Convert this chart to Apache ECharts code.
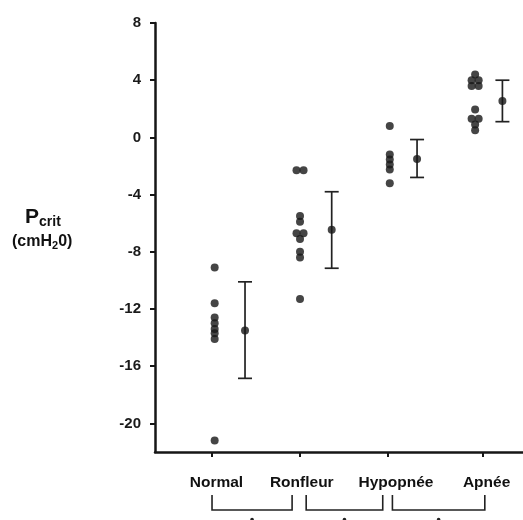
<!DOCTYPE html>
<html>
<head>
<meta charset="utf-8">
<script src="https://cdn.jsdelivr.net/npm/echarts@6/dist/echarts.min.js"></script>
<style>html,body{margin:0;padding:0;background:#fff}#c{width:523px;height:520px}</style>
</head>
<body>
<div id="c"></div>
<script>
// ---- data ----
const categories = ['Normal', 'Ronfleur', 'Hypopnée', 'Apnée'];
const tickX = [1, 2, 3, 4.08];
const labelX = [1.05, 2.02, 3.09, 4.12];
const dotX = [1.03, 2.0, 3.02, 3.99];
const errX = [1.375, 2.36, 3.33, 4.3];
const yTicks = [-20, -16, -12, -8, -4, 0, 4, 8];
// individual points: [x offset from group centre, value]
const normalPts = [[0, -9.1], [0, -11.6], [0, -12.6], [0, -13.0], [0, -13.4], [0, -13.7], [0, -14.1], [0, -21.2]];
const ronfleurPts = [[-0.04, -2.3], [0.04, -2.3], [0, -5.5], [0, -5.9], [-0.04, -6.7], [0.04, -6.7], [0, -7.1], [0, -8.0], [0, -8.4], [0, -11.3]];
const hypopneePts = [[0, 0.8], [0, -1.2], [0, -1.55], [0, -1.9], [0, -2.25], [0, -3.2]];
const apneePts = [[0, 4.4], [-0.04, 4.0], [0.04, 4.0], [-0.04, 3.6], [0.04, 3.6], [0, 1.95], [-0.04, 1.3], [0.04, 1.3], [0, 0.9], [0, 0.5]];
const means = [-13.5, -6.46, -1.51, 2.55];
const lows = [-16.85, -9.15, -2.8, 1.1];
const highs = [-10.1, -3.8, -0.15, 4.0];
const brackets = [[1.0, 1.91], [2.07, 2.94], [3.05, 4.1]];

const groups = [normalPts, ronfleurPts, hypopneePts, apneePts];
const pointData = [];
groups.forEach((g, i) => g.forEach(p => pointData.push([dotX[i] + p[0], p[1]])));
const errData = errX.map((x, i) => [x, lows[i], highs[i]]);
const meanData = errX.map((x, i) => [x, means[i]]);

const ink = '#161616';
const chart = echarts.init(document.getElementById('c'), null, {renderer: 'canvas'});
chart.setOption({
  animation: false,
  backgroundColor: '#fff',
  grid: {left: 155, right: 0, top: 23, bottom: 68},
  xAxis: {
    type: 'value', min: 0.352, max: 4.534,
    splitLine: {show: false},
    axisLine: {show: true, onZero: false, lineStyle: {color: ink, width: 2.5}},
    axisTick: {show: true, length: 5, customValues: tickX, lineStyle: {color: ink, width: 2}},
    axisLabel: {
      customValues: labelX, margin: 23,
      formatter: (v) => { const i = labelX.indexOf(v); return i >= 0 ? categories[i] : ''; },
      color: '#111', fontFamily: 'Liberation Sans', fontWeight: 'bold', fontSize: 15.5
    }
  },
  yAxis: {
    type: 'value', min: -22, max: 8,
    splitLine: {show: false},
    axisLine: {show: true, onZero: false, lineStyle: {color: ink, width: 2.5}},
    axisTick: {show: true, length: 5, customValues: yTicks, lineStyle: {color: ink, width: 2}},
    axisLabel: {customValues: yTicks, margin: 14, color: '#1a1a1a', fontFamily: 'Liberation Sans', fontWeight: 'bold', fontSize: 15}
  },
  series: [
    {type: 'scatter', data: pointData, symbolSize: 8, itemStyle: {color: ink}},
    {
      type: 'custom', data: errData,
      renderItem: (params, api) => {
        const x = api.value(0);
        const lo = api.coord([x, api.value(1)]);
        const hi = api.coord([x, api.value(2)]);
        const hw = 7;
        const st = {stroke: '#222', lineWidth: 1.7};
        return {type: 'group', children: [
          {type: 'line', shape: {x1: lo[0], y1: lo[1], x2: hi[0], y2: hi[1]}, style: st},
          {type: 'line', shape: {x1: lo[0] - hw, y1: lo[1], x2: lo[0] + hw, y2: lo[1]}, style: st},
          {type: 'line', shape: {x1: hi[0] - hw, y1: hi[1], x2: hi[0] + hw, y2: hi[1]}, style: st}
        ]};
      }
    },
    {type: 'scatter', data: meanData, symbolSize: 8, itemStyle: {color: ink}, z: 5}
  ]
});

// annotation graphics: y-axis title and group brackets
const g = [];
g.push({
  type: 'text', left: 25, top: 207,
  style: {
    text: '{p|P}{s|crit}',
    rich: {p: {fontSize: 21, fontWeight: 'bold', fontFamily: 'Liberation Sans', fill: '#111'},
           s: {fontSize: 14, fontWeight: 'bold', fontFamily: 'Liberation Sans', fill: '#111', verticalAlign: 'bottom', padding: [10, 0, 0, 0]}}
  }
});
g.push({
  type: 'text', left: 12, top: 234,
  style: {
    text: '{a|(cmH}{b|2}{a|0)}',
    rich: {a: {fontSize: 16, fontWeight: 'bold', fontFamily: 'Liberation Sans', fill: '#111'},
           b: {fontSize: 11, fontWeight: 'bold', fontFamily: 'Liberation Sans', fill: '#111', padding: [7, 0, 0, 0]}}
  }
});
brackets.forEach(b => {
  const x1 = chart.convertToPixel({xAxisIndex: 0}, b[0]);
  const x2 = chart.convertToPixel({xAxisIndex: 0}, b[1]);
  g.push({type: 'polyline', shape: {points: [[x1, 495], [x1, 510], [x2, 510], [x2, 495]]}, style: {stroke: '#222', lineWidth: 1.6, fill: null}});
  g.push({type: 'circle', shape: {cx: (x1 + x2) / 2, cy: 519.5, r: 1.8}, style: {fill: '#222'}});
});
chart.setOption({graphic: g});
</script>
</body>
</html>
